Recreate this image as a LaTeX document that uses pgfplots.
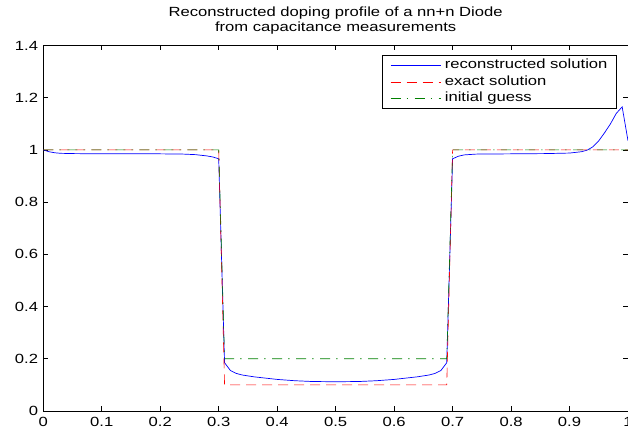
\documentclass[border=0pt]{standalone}
\usepackage{fontspec}
\setmainfont{Liberation Sans}[FakeStretch=1.25]
\usepackage{pgfplots}
\pgfplotsset{compat=1.18}
\definecolor{mblue}{rgb}{0,0,1}
\definecolor{mred}{rgb}{1,0,0}
\definecolor{mgreen}{rgb}{0,0.5,0}
\begin{document}
\fontsize{13}{14}\selectfont
\begin{tikzpicture}
\begin{axis}[
  scale only axis, width=584.7pt, height=365.5pt,
  xmin=0, xmax=1, ymin=0, ymax=1.4,
  xtick={0,0.1,0.2,0.3,0.4,0.5,0.6,0.7,0.8,0.9,1},
  ytick={0,0.2,0.4,0.6,0.8,1,1.2,1.4},
  /pgf/number format/assume math mode=true,
  /pgf/number format/fixed,
  tick align=inside, major tick length=5pt,
  xtick pos=both, ytick pos=both,
  xticklabel pos=lower, yticklabel pos=left,
  tick style={black, line width=0.6pt},
  axis line style={black, line width=0.8pt},
  tick label style={font=\fontsize{13.3}{14}\selectfont},
  xticklabel style={inner sep=0pt, anchor=north, yshift=-6pt},
  yticklabel style={inner sep=0pt, anchor=east, xshift=-5pt},
  title={Reconstructed doping profile of a nn+n Diode\\from capacitance measurements},
  title style={at={(rel axis cs:0.5,1)}, anchor=south, yshift=5.5pt, inner sep=0pt, align=center, font=\fontsize{13.3}{14.5}\selectfont},
  legend cell align=left,
  legend image code/.code={\draw[#1] (0pt,0pt) -- (50pt,0pt);},
  legend style={at={(rel axis cs:0.981,0.974)}, anchor=north east, draw=black, line width=0.8pt,
    font=\fontsize{13.3}{14}\selectfont, inner xsep=8pt, inner ysep=3pt,
    nodes={inner sep=1pt, text height=9.5pt, text depth=2.5pt},
    row sep=2.5pt, column sep=3pt},
]
\addplot[color=mblue, draw=mblue, line width=0.7pt] coordinates {
(0,1.000) (0.01,0.993) (0.02,0.989) (0.03,0.987) (0.05,0.986) (0.10,0.985)
(0.20,0.985) (0.24,0.984) (0.26,0.982) (0.28,0.977) (0.29,0.973) (0.30,0.966)
(0.31,0.185) (0.32,0.155) (0.33,0.144) (0.34,0.138) (0.36,0.131) (0.38,0.126)
(0.40,0.121) (0.43,0.116) (0.46,0.113) (0.50,0.112) (0.54,0.113) (0.57,0.116)
(0.60,0.121) (0.62,0.126) (0.64,0.131) (0.66,0.138) (0.67,0.144) (0.68,0.155)
(0.69,0.185) (0.70,0.966) (0.71,0.976) (0.72,0.981) (0.74,0.984) (0.80,0.985)
(0.86,0.986) (0.90,0.988) (0.92,0.993) (0.93,0.999) (0.94,1.012) (0.95,1.035)
(0.96,1.066) (0.97,1.100) (0.98,1.140) (0.99,1.165) (1.00,1.035)
};
\addlegendentry{reconstructed solution}
\addplot[color=mred, draw=mred, line width=0.6pt, dash pattern=on 10pt off 6pt] coordinates {
(0,1) (0.30,1) (0.31,0.1) (0.69,0.1) (0.70,1) (1,1)
};
\addlegendentry{exact solution}
\addplot[color=mgreen, draw=mgreen, line width=0.6pt, dash pattern=on 10pt off 6pt on 1.5pt off 6.5pt] coordinates {
(0,1) (0.30,1) (0.31,0.2) (0.69,0.2) (0.70,1) (1,1)
};
\addlegendentry{initial guess}
\coordinate (SW) at (rel axis cs:0,0);
\coordinate (NE) at (rel axis cs:1,1);
\end{axis}
\pgfresetboundingbox
\path[use as bounding box] ([xshift=-43.3pt,yshift=-23pt]SW) rectangle ([yshift=45.5pt]NE);
\end{tikzpicture}
\end{document}
